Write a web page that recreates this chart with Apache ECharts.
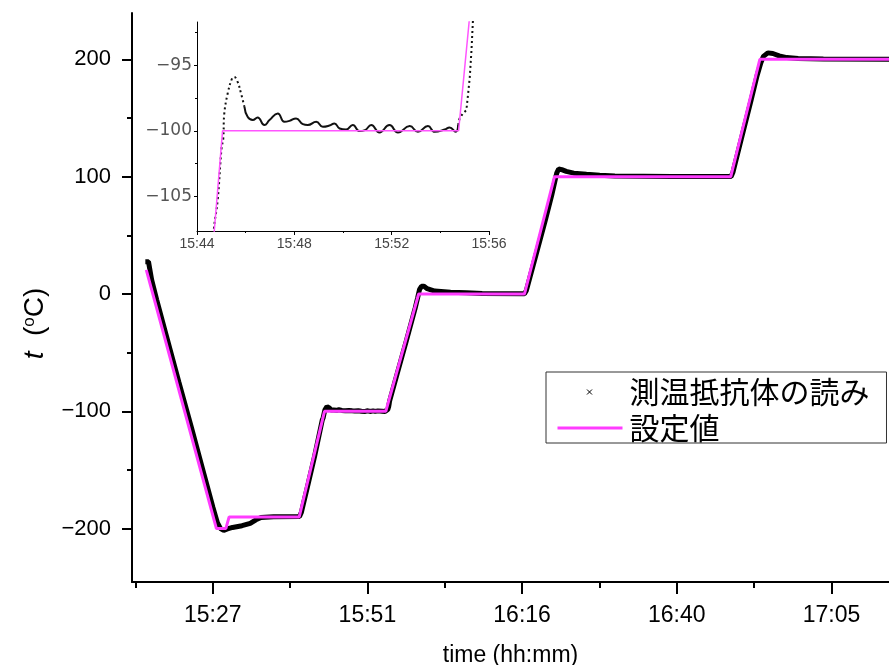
<!DOCTYPE html>
<html><head><meta charset="utf-8">
<script src="https://cdn.jsdelivr.net/npm/echarts@6/dist/echarts.min.js"></script>
<style>html,body{margin:0;padding:0;background:#fff}#c{width:889px;height:665px}</style>
</head><body><div id="c"></div>
<script>
// time in minutes after midnight, temperature in °C
const measTime = [916.70,917.20,917.70,918.50,920.00,922.00,924.00,926.00,927.40,928.10,928.60,929.10,929.70,930.50,932.00,933.30,934.20,935.00,937.00,941.10,
  941.40,942.50,943.50,944.69,944.85,945.01,945.08,945.12,945.26,945.44,945.53,945.67,945.81,945.95,946.08,946.29,946.49,946.77,946.98,947.32,
  947.59,947.80,948.07,948.35,948.55,948.90,949.17,949.44,949.65,949.86,950.13,950.40,950.68,950.90,951.16,951.50,951.91,952.26,952.74,953.08,
  953.49,953.77,954.18,954.38,954.63,954.73,954.79,954.93,955.07,955.14,955.21,955.28,955.34,956.50,958.00,959.40,959.80,960.10,960.40,960.80,
  961.30,962.50,965.00,967.50,970.00,976.70,977.00,978.50,980.00,981.00,981.50,981.80,982.10,982.60,983.30,984.50,986.50,988.60,991.00,1000.0,
  1009.4,1009.7,1011.0,1012.5,1013.5,1014.1,1014.5,1015.2,1016.0,1017.0,1018.2,1020.0,1024.0,1034.4];
const measTemp = [27.5,27.5,12,-5,-35,-75,-114,-154,-182,-195,-200,-201.5,-200.3,-199,-197.5,-195.5,-192.5,-190.5,-189.8,-189.7,
  -186,-161,-138,-107.6,-105.3,-101.3,-100.6,-98.7,-97.15,-96.0,-95.88,-96.26,-97.15,-98.17,-98.93,-99.18,-98.98,-99.56,-99.18,-98.67,
  -99.31,-99.24,-99.05,-99.49,-99.56,-99.31,-99.69,-99.60,-99.44,-99.82,-99.90,-99.56,-100.02,-99.95,-99.56,-100.13,-99.56,-100.13,-99.64,-100.08,
  -99.64,-100.08,-99.90,-99.74,-100.08,-99.56,-99.05,-98.67,-98.42,-97.2,-95.9,-93.84,-91.55,-69,-40,-12,-3,4,6.5,6.5,
  4.5,2.5,1.5,1.0,0.5,0.2,3,33,63,84,96,103,106.5,106,104.5,103,102,101.2,100.5,100.2,
  100.1,104,132,164,186,197,202.5,205.5,205,203,201.5,200.7,200.3,200.1];
const setTime = [916.85,927.95,929.44,929.96,941.05,945.05,954.75,959.95,976.70,981.45,1009.34,1013.94,1034.4];
const setTemp = [20.5,-200,-200,-190,-190,-100,-100,0,0,100,100,200,200];

const xTickValues = [927.36,951.84,976.32,1000.8,1025.28];
const xTickLabels = ['15:27','15:51','16:16','16:40','17:05'];
const xMinorValues = [915.12,939.6,964.08,988.56,1013.04];
const yTickValues = [-200,-100,0,100,200];
const yMinorValues = [-150,-50,50,150];
const insetYTicks = [-105,-100,-95];
const insetYMinor = [-102.5,-97.5,-92.5];
const seriesNames = ['測温抵抗体の読み','設定値'];
const insetSplit = [945.95,954.73]; // dotted / solid / dotted segments of the inset trace

const meas = measTime.map((t,i)=>[t,measTemp[i]]);
const setp = setTime.map((t,i)=>[t,setTemp[i]]);
const riseSeg = meas.filter(p=>p[0]>=943 && p[0]<=insetSplit[0]);
const platSeg = meas.filter(p=>p[0]>=insetSplit[0] && p[0]<=insetSplit[1]);
const exitSeg = meas.filter(p=>p[0]>=insetSplit[1] && p[0]<=957);

const minus = v => String(v).replace('-', '\u2212');
const hhmm = v => { const h=Math.floor(v/60), m=Math.floor(v%60+1e-6); return h+':'+(m<10?'0':'')+m; };
const F = 'Liberation Sans, Arial, sans-serif';
const MAG = '#ff3cff';

const chart = echarts.init(document.getElementById('c'), null, {renderer:'canvas'});
chart.setOption({
  animation:false,
  backgroundColor:'#fff',
  grid:[
    {left:132, top:13, right:0, bottom:83, containLabel:false, outerBoundsMode:'none'},
    {left:197, top:22, width:292, height:209, containLabel:false, outerBoundsMode:'none'}
  ],
  legend:{
    orient:'vertical', left:546, top:372,
    itemWidth:65, itemHeight:30, itemGap:6,
    padding:[4,17,0,11], borderColor:'#333', borderWidth:1, backgroundColor:'#fff',
    selectedMode:false,
    textStyle:{fontSize:30, fontFamily:'Noto Sans CJK JP', color:'#000', padding:[0,0,0,2]},
    data:[
      {name:seriesNames[0], icon:'path://M0,0M65,30M29.5,13L34.5,18M34.5,13L29.5,18',
       itemStyle:{color:'transparent', borderColor:'#000', borderWidth:1}},
      {name:seriesNames[1], icon:'path://M0,0M65,30M0,13.5L65,13.5L65,16.5L0,16.5Z',
       itemStyle:{color:MAG, borderWidth:0}}
    ]
  },
  xAxis:[
    {type:'value', gridIndex:0, position:'bottom', min:914.59, max:1034.38,
     name:'time (hh:mm)', nameLocation:'middle', nameGap:62,
     nameTextStyle:{fontSize:23, fontFamily:F, color:'#000'},
     axisLine:{show:true, onZero:false, lineStyle:{color:'#000', width:2}},
     axisTick:{show:true, customValues:xTickValues, length:12, lineStyle:{color:'#000', width:2}},
     axisLabel:{show:true, customValues:xTickValues, margin:22, fontSize:23, fontFamily:F, color:'#000',
       formatter:v=>{let k=0;xTickValues.forEach((x,i)=>{if(Math.abs(x-v)<Math.abs(xTickValues[k]-v))k=i;});return xTickLabels[k];}},
     splitLine:{show:false}},
    {type:'value', gridIndex:0, position:'bottom', min:914.59, max:1034.38,
     axisLine:{show:false, onZero:false}, axisLabel:{show:false},
     axisTick:{show:true, customValues:xMinorValues, length:6, lineStyle:{color:'#000', width:2}},
     splitLine:{show:false}},
    {type:'value', gridIndex:1, position:'bottom', min:944, max:956, interval:4,
     axisLine:{show:true, onZero:false, lineStyle:{color:'#000', width:1}},
     axisTick:{show:true, length:4, lineStyle:{color:'#000', width:1}},
     minorTick:{show:true, splitNumber:2, length:2, lineStyle:{color:'#000', width:1}},
     axisLabel:{margin:6, fontSize:14, fontFamily:F, color:'#444', formatter:hhmm},
     splitLine:{show:false}}
  ],
  yAxis:[
    {type:'value', gridIndex:0, position:'left', min:-245.5, max:239.5,
     name:'{it|t}  ({sup|o}C)', nameLocation:'middle', nameRotate:90, nameGap:83,
     nameTextStyle:{fontSize:28, fontFamily:F, color:'#000', padding:[0,52,0,0],
       rich:{it:{fontStyle:'italic', fontSize:28, fontFamily:F, color:'#000'},
             sup:{fontSize:17, fontFamily:F, color:'#000', verticalAlign:'top'}}},
     axisLine:{show:true, onZero:false, lineStyle:{color:'#000', width:2}},
     axisTick:{show:true, customValues:yTickValues, length:10, lineStyle:{color:'#000', width:2}},
     axisLabel:{show:true, customValues:yTickValues, margin:21, fontSize:22, fontFamily:F, color:'#000', formatter:minus},
     splitLine:{show:false}},
    {type:'value', gridIndex:0, position:'left', min:-245.5, max:239.5,
     axisLine:{show:false, onZero:false}, axisLabel:{show:false},
     axisTick:{show:true, customValues:yMinorValues, length:5, lineStyle:{color:'#000', width:2}},
     splitLine:{show:false}},
    {type:'value', gridIndex:1, position:'left', min:-107.66, max:-91.68,
     axisLine:{show:true, onZero:false, lineStyle:{color:'#000', width:1}},
     axisTick:{show:true, customValues:insetYTicks, length:3, lineStyle:{color:'#000', width:1}},
     axisLabel:{show:true, customValues:insetYTicks, margin:5, fontSize:17, fontFamily:'DejaVu Sans', color:'#555', formatter:minus},
     splitLine:{show:false}},
    {type:'value', gridIndex:1, position:'left', min:-107.66, max:-91.68,
     axisLine:{show:false, onZero:false}, axisLabel:{show:false},
     axisTick:{show:true, customValues:insetYMinor, length:2, lineStyle:{color:'#000', width:1}},
     splitLine:{show:false}}
  ],
  series:[
    {name:seriesNames[0], type:'line', xAxisIndex:0, yAxisIndex:0, data:meas, symbol:'none', color:'#000',
     lineStyle:{color:'#000', width:5}, z:2},
    {name:seriesNames[1], type:'line', xAxisIndex:0, yAxisIndex:0, data:setp, symbol:'none', color:MAG,
     lineStyle:{color:MAG, width:3}, z:3},
    {name:seriesNames[0], type:'line', xAxisIndex:2, yAxisIndex:2, data:platSeg, symbol:'none', color:'#000',
     smooth:0.5, lineStyle:{color:'#111', width:2}, z:2},
    {name:seriesNames[0], type:'line', xAxisIndex:2, yAxisIndex:2, data:riseSeg, symbol:'none', color:'#000',
     smooth:0.4, lineStyle:{color:'#111', width:2, type:[2,3]}, z:2},
    {name:seriesNames[0], type:'line', xAxisIndex:2, yAxisIndex:2, data:exitSeg, symbol:'none', color:'#000',
     lineStyle:{color:'#111', width:2, type:[2,3]}, z:2},
    {name:seriesNames[1], type:'line', xAxisIndex:2, yAxisIndex:2, data:setp, symbol:'none', color:MAG,
     lineStyle:{color:'#ff55ff', width:1.5}, z:3}
  ]
});
</script></body></html>
